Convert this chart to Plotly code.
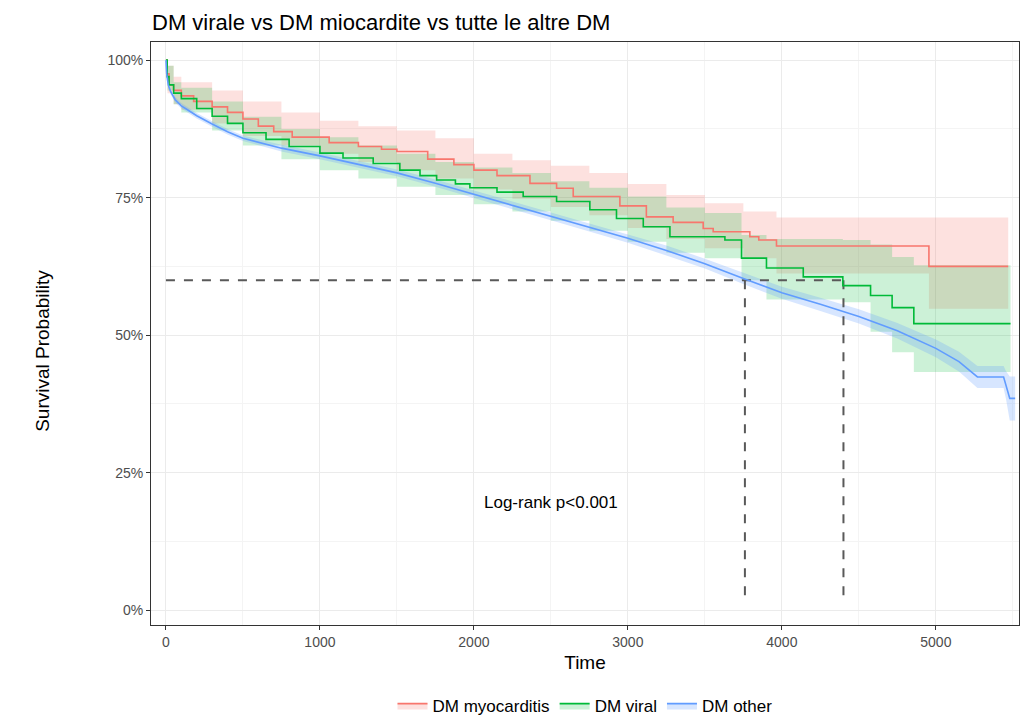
import plotly.graph_objects as go

# ---------------- data ----------------
series_names = ["DM myocarditis", "DM viral", "DM other"]
line_colors = ["#F8766D", "#00BA38", "#619CFF"]
band_colors = ["rgba(248,118,109,0.22)", "rgba(0,186,56,0.20)", "rgba(97,156,255,0.25)"]

# DM myocarditis (KM step curve)
myo_t = [0, 8, 20, 50, 100, 180, 300, 400, 500, 600, 700, 820, 1060, 1250, 1400, 1500, 1700, 1870,
         2000, 2150, 2364, 2537, 2645, 2948, 3120, 3294, 3489, 3554, 3792, 3850, 3965, 4955, 5470]
myo_s = [1.0, 0.975, 0.955, 0.945, 0.935, 0.925, 0.915, 0.905, 0.893, 0.880, 0.870, 0.860, 0.850, 0.843,
         0.838, 0.834, 0.820, 0.810, 0.800, 0.790, 0.776, 0.767, 0.752, 0.735, 0.715, 0.705, 0.694,
         0.688, 0.679, 0.673, 0.662, 0.625, 0.625]
myo_band_t = [0, 10, 50, 100, 300, 500, 750, 1000, 1250, 1500, 1750, 2000, 2250, 2500, 2750, 3000,
              3250, 3500, 3750, 3965, 4955, 5470]
myo_lo = [1.0, 0.94, 0.92, 0.91, 0.885, 0.862, 0.845, 0.830, 0.815, 0.800, 0.785, 0.765, 0.748, 0.733,
          0.718, 0.695, 0.675, 0.658, 0.640, 0.612, 0.548, 0.548]
myo_hi = [1.0, 0.99, 0.97, 0.96, 0.945, 0.925, 0.905, 0.890, 0.880, 0.872, 0.858, 0.830, 0.818, 0.808,
          0.795, 0.775, 0.755, 0.740, 0.725, 0.714, 0.714, 0.714]

# DM viral (KM step curve)
vir_t = [0, 8, 20, 50, 100, 200, 300, 400, 500, 650, 800, 1000, 1150, 1346, 1519, 1650, 1758, 1880,
         1974, 2150, 2320, 2537, 2753, 2926, 3100, 3273, 3630, 3738, 3900, 4139, 4396, 4576, 4716,
         4857, 5485]
vir_s = [1.0, 0.970, 0.955, 0.940, 0.930, 0.912, 0.898, 0.885, 0.868, 0.856, 0.843, 0.831, 0.822,
         0.812, 0.800, 0.790, 0.782, 0.775, 0.768, 0.760, 0.752, 0.743, 0.728, 0.712, 0.697, 0.679,
         0.673, 0.640, 0.622, 0.606, 0.590, 0.572, 0.550, 0.521, 0.521]
vir_band_t = [0, 10, 50, 100, 300, 500, 750, 1000, 1250, 1500, 1750, 2000, 2250, 2500, 2750, 3000,
              3250, 3500, 3738, 3900, 4396, 4576, 4716, 4857, 5485]
vir_lo = [1.0, 0.945, 0.92, 0.905, 0.872, 0.845, 0.820, 0.800, 0.785, 0.770, 0.755, 0.738, 0.725,
          0.708, 0.690, 0.670, 0.650, 0.640, 0.600, 0.565, 0.560, 0.506, 0.469, 0.433, 0.433]
vir_hi = [1.0, 0.99, 0.96, 0.95, 0.925, 0.897, 0.875, 0.860, 0.845, 0.830, 0.815, 0.805, 0.795,
          0.780, 0.768, 0.752, 0.732, 0.722, 0.682, 0.675, 0.673, 0.665, 0.642, 0.627, 0.627]

# DM other (large group: very fine steps)
oth_t = [0, 5, 15, 30, 60, 100, 150, 200, 300, 400, 500, 750, 1000, 1250, 1500, 1750, 2000, 2250,
         2500, 2750, 3000, 3250, 3500, 3750, 4000, 4250, 4500, 4750, 5000, 5150, 5270, 5440, 5455,
         5480, 5515]
oth_s = [1.0, 0.975, 0.955, 0.943, 0.928, 0.917, 0.908, 0.899, 0.884, 0.870, 0.858, 0.840, 0.826,
         0.811, 0.795, 0.776, 0.756, 0.736, 0.716, 0.696, 0.676, 0.654, 0.630, 0.603, 0.577, 0.556,
         0.534, 0.508, 0.476, 0.452, 0.424, 0.424, 0.41, 0.385, 0.385]
oth_lo = [1.0, 0.970, 0.950, 0.938, 0.923, 0.912, 0.903, 0.894, 0.879, 0.865, 0.853, 0.834, 0.820,
          0.805, 0.789, 0.770, 0.749, 0.729, 0.709, 0.688, 0.668, 0.645, 0.621, 0.593, 0.566, 0.544,
          0.521, 0.494, 0.460, 0.434, 0.404, 0.404, 0.385, 0.345, 0.345]
oth_hi = [1.0, 0.980, 0.960, 0.948, 0.933, 0.922, 0.913, 0.904, 0.889, 0.875, 0.863, 0.846, 0.832,
          0.817, 0.801, 0.783, 0.763, 0.743, 0.723, 0.704, 0.684, 0.663, 0.639, 0.613, 0.588, 0.568,
          0.547, 0.522, 0.492, 0.470, 0.444, 0.444, 0.435, 0.425, 0.425]

# median-survival reference lines
median_level = 0.6
median_times = [3760, 4400]

x_ticks = [0, 1000, 2000, 3000, 4000, 5000]
y_ticks = [0, 0.25, 0.5, 0.75, 1.0]
pval_text = "Log-rank p<0.001"
pval_pos = (2500, 0.195)

FONT = "Liberation Sans, Arial, sans-serif"

fig = go.Figure()

bands = [(myo_band_t, myo_lo, myo_hi, "hv"), (vir_band_t, vir_lo, vir_hi, "hv"),
         (oth_t, oth_lo, oth_hi, "linear")]
for (bt, lo, hi, shp), bc in zip(bands, band_colors):
    fig.add_trace(go.Scatter(x=bt, y=lo, mode="lines", line=dict(width=0, shape=shp),
                             showlegend=False, hoverinfo="skip"))
    fig.add_trace(go.Scatter(x=bt, y=hi, mode="lines", line=dict(width=0, shape=shp),
                             fill="tonexty", fillcolor=bc, showlegend=False, hoverinfo="skip"))

# median dashed lines
fig.add_trace(go.Scatter(x=[0, max(median_times)], y=[median_level, median_level], mode="lines",
                         line=dict(color="#595959", width=2, dash="dash"), showlegend=False))
for mt in median_times:
    fig.add_trace(go.Scatter(x=[mt, mt], y=[median_level, 0.015], mode="lines",
                             line=dict(color="#595959", width=2, dash="dash"), showlegend=False))

curves = [(myo_t, myo_s, "hv"), (vir_t, vir_s, "hv"), (oth_t, oth_s, "linear")]
for (ct, cs, shp), lc in zip(curves, line_colors):
    fig.add_trace(go.Scatter(x=ct, y=cs, mode="lines", line=dict(color=lc, width=1.6, shape=shp),
                             showlegend=False))

# legend entries (key with pale fill + coloured line)
for name, lc, bc in zip(series_names, line_colors, band_colors):
    fig.add_trace(go.Scatter(x=[None], y=[None], mode="lines", name=name,
                             line=dict(color=lc, width=1.6), fill="toself", fillcolor=bc))

fig.add_annotation(x=pval_pos[0], y=pval_pos[1], text=pval_text, showarrow=False,
                   font=dict(size=17, color="black", family=FONT))

grid_major = "#EBEBEB"
fig.update_layout(
    width=1021, height=716,
    margin=dict(l=151, r=2, t=42, b=91, autoexpand=False),
    paper_bgcolor="white", plot_bgcolor="white",
    font=dict(family=FONT, color="#4D4D4D", size=12),
    title=dict(text="DM virale vs DM miocardite vs tutte le altre DM", x=152 / 1021, xanchor="left",
               xref="container", y=1 - 22 / 716, yanchor="middle", yref="container",
               font=dict(size=22, color="black", family=FONT)),
    legend=dict(orientation="h", x=0.5, xanchor="center", y=-0.139, yanchor="middle",
                traceorder="normal",
                font=dict(size=17, color="black", family=FONT), itemwidth=30),
    xaxis=dict(range=[-97, 5540], tickvals=x_ticks, showgrid=True, gridcolor=grid_major,
               gridwidth=1, zeroline=False, showline=True, linecolor="#333333", linewidth=1,
               mirror=True, ticks="outside", ticklen=4, tickcolor="#333333", automargin=False,
               tickfont=dict(size=14, color="#4D4D4D"),
               minor=dict(tickvals=[500, 1500, 2500, 3500, 4500, 5500], showgrid=True,
                          gridcolor="#F4F4F4", gridwidth=1, ticks=""),
               title=dict(text="Time", font=dict(size=19, color="black"), standoff=6)),
    yaxis=dict(range=[-0.027, 1.033], tickvals=y_ticks, tickformat=".0%", showgrid=True,
               gridcolor=grid_major, gridwidth=1, zeroline=False, showline=True,
               linecolor="#333333", linewidth=1, mirror=True, ticks="outside", ticklen=4,
               tickcolor="#333333", tickfont=dict(size=14, color="#4D4D4D"), automargin=False,
               minor=dict(tickvals=[0.125, 0.375, 0.625, 0.875], showgrid=True,
                          gridcolor="#F4F4F4", gridwidth=1, ticks="")),
)
fig.add_annotation(x=-0.139, y=0.47, xref="paper", yref="paper", text="Survival Probability",
                   textangle=-90, showarrow=False, font=dict(size=19, color="black", family=FONT))

fig.write_html("out.html")
